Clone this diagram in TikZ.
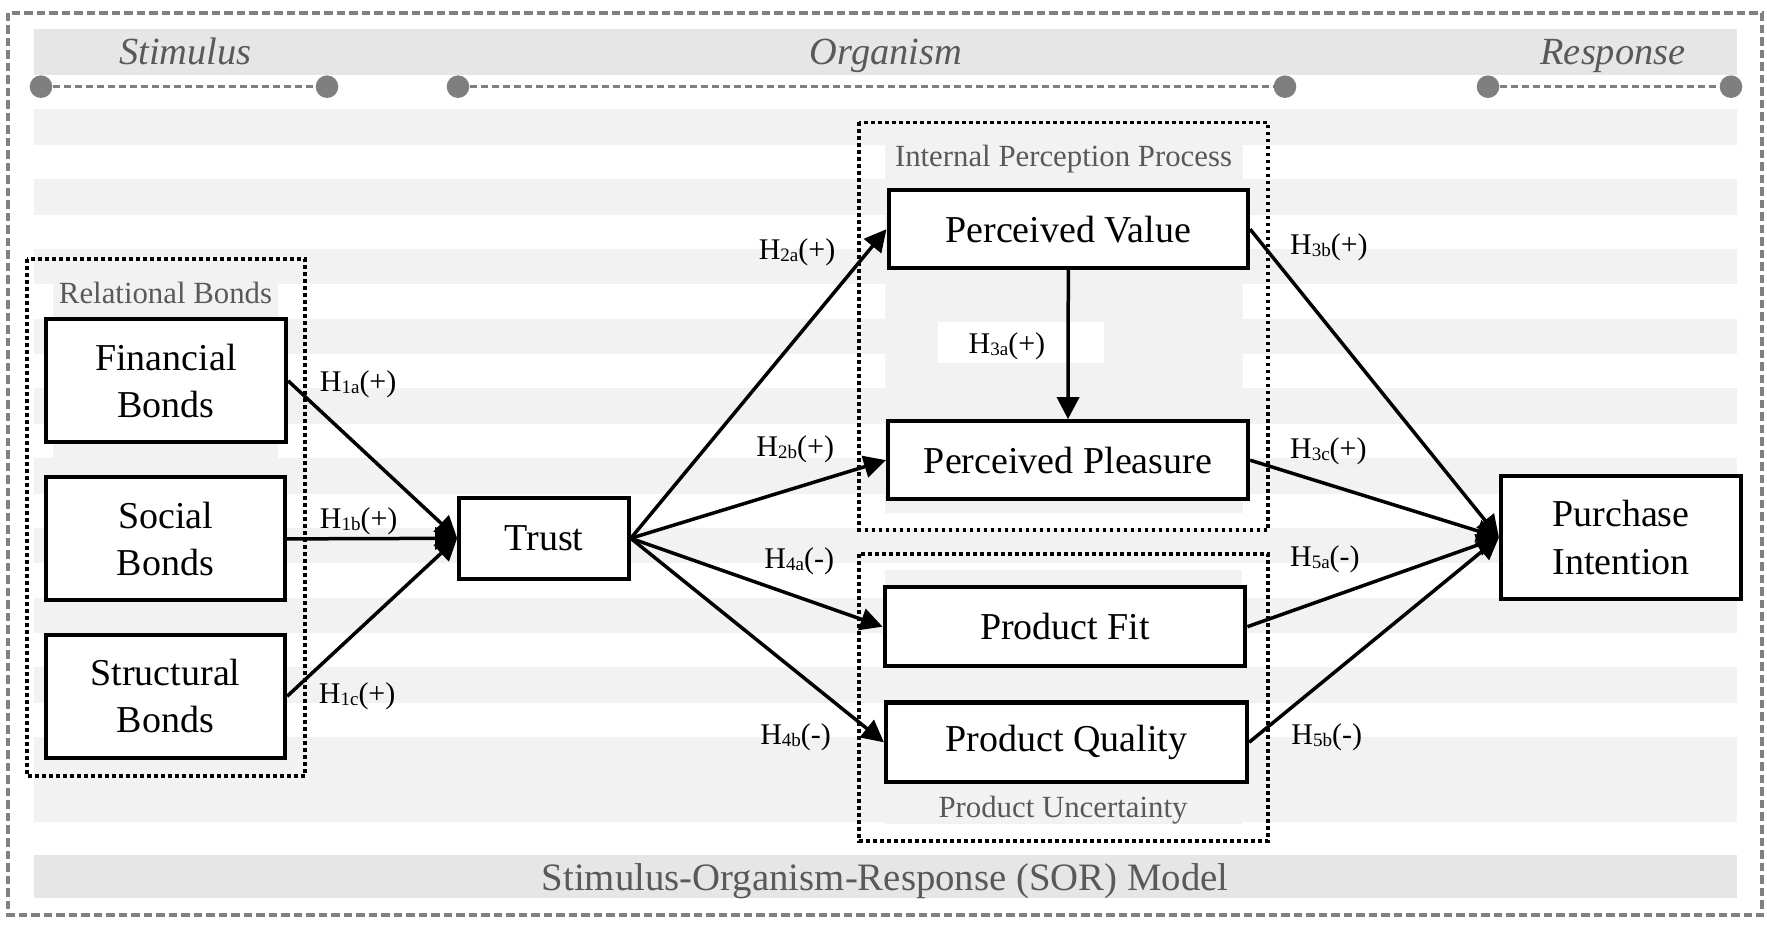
\documentclass[tikz,border=0pt]{standalone}
\usepackage{fontspec}
\setmainfont{Liberation Serif}
\usetikzlibrary{arrows.meta}
\definecolor{stripe}{HTML}{F2F2F2}
\definecolor{band}{HTML}{E6E6E6}
\definecolor{framegray}{HTML}{808080}
\definecolor{dotgray}{HTML}{7F7F7F}
\definecolor{txtgray}{HTML}{595959}
\newcommand{\hlab}[2]{H\raisebox{-1pt}{\fontsize{9.5}{10}\selectfont #1}(#2)}
\begin{document}
\begin{tikzpicture}[x=0.5pt,y=-0.5pt,
  box/.style={draw=black, line width=2.1pt, fill=white, inner sep=0pt, align=center, font=\fontsize{19}{23.7}\selectfont},
  arr/.style={line width=1.75pt, -{Triangle[length=11pt,width=11pt]}},
  lab/.style={inner sep=0pt, font=\fontsize{15}{18}\selectfont},
  grp/.style={draw=black, line width=1.8pt, dash pattern=on 1.8pt off 1.7pt},
  glab/.style={inner sep=0pt, text=txtgray, font=\fontsize{15.4}{18}\selectfont},
  hdr/.style={inner sep=0pt, text=txtgray, font=\fontsize{19.2}{23}\selectfont\itshape},
  dot/.style={circle, fill=dotgray, minimum size=11.3pt, inner sep=0pt},
  dline/.style={draw=dotgray, line width=1.2pt, dash pattern=on 3.5pt off 2pt}
]
\useasboundingbox (0,0) rectangle (1767,929);
\fill[white] (0,0) rectangle (1767,929);

% background bands and stripes
\fill[band] (34,29) rectangle (1737,75);
\fill[band] (34,855) rectangle (1737,898);
\foreach \k in {0,...,8}{
  \fill[stripe] (34,{109.5+69.75*\k}) rectangle (1737,{145+69.75*\k});
}
\fill[stripe] (34,737) rectangle (1737,822);

% outer frame
\draw[draw=framegray, line width=1.6pt, dash pattern=on 4.25pt off 2pt] (8,13) rectangle (1762,915);

% panels
\fill[stripe] (53,276) rectangle (278,768);
\fill[stripe] (885,139) rectangle (1243,513);
\fill[stripe] (885,570) rectangle (1242,687);
\fill[stripe] (885,790) rectangle (1242,824);
\fill[white] (938,322) rectangle (1104,363);

% group boxes
\draw[grp] (27,259) rectangle (305,776);
\draw[grp] (859,122.5) rectangle (1268,530);
\draw[grp] (859,554) rectangle (1268,841);

% header
\node[hdr, anchor=base] (stim) at (185.4,65) {Stimulus};
\node[hdr, anchor=base] (org) at (886,65) {Organism};
\node[hdr, anchor=base] (resp) at (1613,65) {Response};
\node[dot] (d1) at (41,86.7) {};
\node[dot] (d2) at (327,86.7) {};
\node[dot] (d3) at (458,86.7) {};
\node[dot] (d4) at (1285,86.7) {};
\node[dot] (d5) at (1488,86.7) {};
\node[dot] (d6) at (1731,86.7) {};
\draw[dline] (d1) -- (d2);
\draw[dline] (d3) -- (d4);
\draw[dline] (d5) -- (d6);

\node[anchor=base, inner sep=0pt, text=txtgray, font=\fontsize{19.4}{23}\selectfont] (sor) at (885.2,890) {Stimulus-Organism-Response (SOR) Model};

% group labels
\node[glab, anchor=base] (rb) at (165.5,303.3) {Relational Bonds};
\node[glab, anchor=base] (ipp) at (1063.5,166.7) {Internal Perception Process};
\node[glab, anchor=base] (pu) at (1063,817.3) {Product Uncertainty};

% nodes
\node[box, minimum width=120pt, minimum height=61.5pt] (fin) at (166,380.8) {Financial\\Bonds};
\node[box, minimum width=119.5pt, minimum height=61.5pt] (soc) at (165.5,538.9) {Social\\Bonds};
\node[box, minimum width=119.5pt, minimum height=61.5pt] (str) at (165.5,696.3) {Structural\\Bonds};
\node[box, minimum width=84.7pt, minimum height=40.4pt] (trust) at (544,538.3) {Trust};
\node[box, minimum width=179.7pt, minimum height=38.9pt] (pv) at (1068.3,229.2) {Perceived Value};
\node[box, minimum width=180pt, minimum height=38.9pt] (pp) at (1068,460.2) {Perceived Pleasure};
\node[box, minimum width=180.3pt, minimum height=39.7pt] (pf) at (1065,626.7) {Product Fit};
\node[box, minimum width=180.5pt, minimum height=39.7pt] (pq) at (1066.5,742.3) {Product Quality};
\node[box, minimum width=120pt, minimum height=61.5pt] (pi) at (1621,537.5) {Purchase\\Intention};

% connectors
\draw[arr] (fin.east) -- (trust.west);
\draw[arr] (soc.east) -- (trust.west);
\draw[arr] (str.east) -- (trust.west);
\draw[arr] (trust.east) -- (pv.west);
\draw[arr] (trust.east) -- (pp.west);
\draw[arr] (trust.east) -- (pf.west);
\draw[arr] (trust.east) -- (pq.west);
\draw[arr] (pv.south) -- (pp.north);
\draw[arr] (pv.east) -- (pi.west);
\draw[arr] (pp.east) -- (pi.west);
\draw[arr] (pf.east) -- (pi.west);
\draw[arr] (pq.east) -- (pi.west);

% labels
\node[lab, anchor=base west] (h1a) at (319.5,392) {\hlab{1a}{+}};
\node[lab, anchor=base west] (h1b) at (319.5,529) {\hlab{1b}{+}};
\node[lab, anchor=base west] (h1c) at (318.5,704) {\hlab{1c}{+}};
\node[lab, anchor=base east] (h2a) at (835.7,260) {\hlab{2a}{+}};
\node[lab, anchor=base east] (h2b) at (834.4,456.7) {\hlab{2b}{+}};
\node[lab, anchor=base east] (h4a) at (834.4,568.3) {\hlab{4a}{-}};
\node[lab, anchor=base east] (h4b) at (831.3,745) {\hlab{4b}{-}};
\node[lab, anchor=base west] (h3a) at (968.3,354) {\hlab{3a}{+}};
\node[lab, anchor=base west] (h3b) at (1289.7,255) {\hlab{3b}{+}};
\node[lab, anchor=base west] (h3c) at (1289.7,459) {\hlab{3c}{+}};
\node[lab, anchor=base west] (h5a) at (1289.7,567) {\hlab{5a}{-}};
\node[lab, anchor=base west] (h5b) at (1291,745) {\hlab{5b}{-}};
\end{tikzpicture}
\end{document}
